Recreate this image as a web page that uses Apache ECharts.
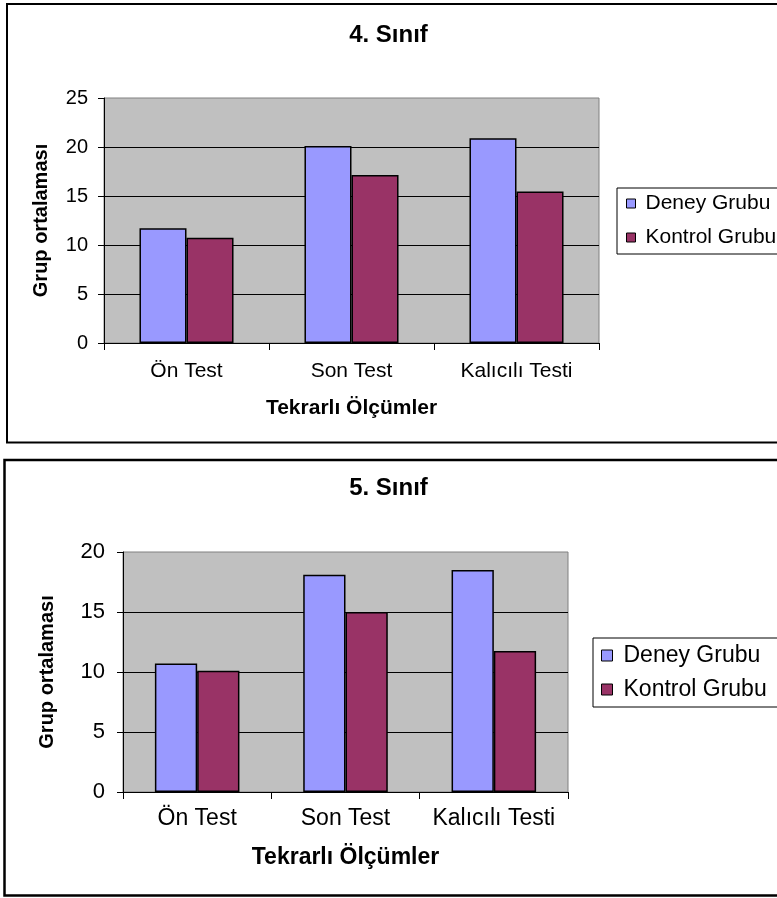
<!DOCTYPE html>
<html>
<head>
<meta charset="utf-8">
<script src="https://cdn.jsdelivr.net/npm/echarts@6/dist/echarts.min.js"></script>
<style>
html,body{margin:0;padding:0;background:#fff;}
#c{width:777px;height:898px;}
</style>
</head>
<body>
<div id="c"></div>
<script>
var categories = ['Ön Test', 'Son Test', 'Kalıcılı Testi'];
var seriesNames = ['Deney Grubu', 'Kontrol Grubu'];
var deney4 = [11.7, 20.1, 20.9];
var kontrol4 = [10.75, 17.15, 15.45];
var deney5 = [10.7, 18.1, 18.5];
var kontrol5 = [10.1, 15.0, 11.75];
var titles = ['4. Sınıf', '5. Sınıf'];
var xTitle = 'Tekrarlı Ölçümler';
var yTitle = 'Grup ortalaması';
var yMax4 = 25, yMax5 = 20, yStep = 5;

var FONT = '"Liberation Sans", Arial, sans-serif';
var colDeney = '#9999FF', colKontrol = '#993366';

var chart = echarts.init(document.getElementById('c'), null, {renderer: 'canvas'});

function xAxisOpt(gi, fs, margin, gap, nfs) {
  return {
    type: 'category', gridIndex: gi, data: categories,
    axisLine: {lineStyle: {color: '#000', width: 1}},
    axisTick: {show: true, length: 7, lineStyle: {color: '#000'}},
    axisLabel: {color: '#000', fontFamily: FONT, fontSize: fs, margin: margin, interval: 0, hideOverlap: false},
    name: xTitle, nameLocation: 'middle', nameGap: gap,
    nameTextStyle: {color: '#000', fontFamily: FONT, fontSize: nfs, fontWeight: 'bold'}
  };
}
function yAxisOpt(gi, max, fs, margin, gap) {
  return {
    type: 'value', gridIndex: gi, min: 0, max: max, interval: yStep,
    axisLine: {show: true, lineStyle: {color: '#000', width: 1}},
    axisTick: {show: true, length: 6, lineStyle: {color: '#000'}},
    axisLabel: {color: '#000', fontFamily: FONT, fontSize: fs, margin: margin},
    splitLine: {show: true, showMaxLine: false, lineStyle: {color: '#000', width: 1}},
    name: yTitle, nameLocation: 'middle', nameRotate: 90, nameGap: gap,
    nameTextStyle: {color: '#000', fontFamily: FONT, fontSize: 20, fontWeight: 'bold'}
  };
}
function barSeries(name, data, gi, color) {
  return {
    type: 'bar', name: name, data: data, xAxisIndex: gi, yAxisIndex: gi,
    barGap: '0%', barCategoryGap: '43%',
    itemStyle: {color: color, borderColor: '#000', borderWidth: 1.5},
    emphasis: {disabled: true}, animation: false
  };
}
function legendOpt(left, top, fs, lh, gap, pad, textPad, icon) {
  return {
    left: left, top: top, orient: 'vertical', data: seriesNames,
    icon: 'rect', itemWidth: icon, itemHeight: icon, itemGap: gap,
    padding: pad, backgroundColor: '#fff',
    borderColor: '#000', borderWidth: 1,
    itemStyle: {borderColor: '#000', borderWidth: 1},
    textStyle: {color: '#000', fontFamily: FONT, fontSize: fs, lineHeight: lh, padding: [0, 0, 0, textPad]},
    selectedMode: false
  };
}

var option = {
  animation: false,
  backgroundColor: '#fff',
  title: [
    {text: titles[0], left: 'center', top: 23, padding: [0, 0, 0, 17],
     textStyle: {color: '#000', fontFamily: FONT, fontSize: 24, fontWeight: 'bold'}},
    {text: titles[1], left: 'center', top: 476, padding: [0, 0, 0, 17],
     textStyle: {color: '#000', fontFamily: FONT, fontSize: 24, fontWeight: 'bold'}}
  ],
  legend: [
    legendOpt(617, 188, 21, 20, 13, [5, 40, 6, 9], 5, 9),
    legendOpt(593, 638, 23, 22, 11, [6, 40, 6, 8], 6, 11)
  ],
  grid: [
    {left: 104, top: 98, width: 495, height: 245, show: true, backgroundColor: '#C0C0C0', borderColor: '#808080', borderWidth: 1},
    {left: 123, top: 552, width: 445, height: 240, show: true, backgroundColor: '#C0C0C0', borderColor: '#808080', borderWidth: 1}
  ],
  xAxis: [xAxisOpt(0, 21, 18, 55, 21), xAxisOpt(1, 23, 15, 54, 23)],
  yAxis: [yAxisOpt(0, yMax4, 20, 16, 53), yAxisOpt(1, yMax5, 22, 18, 66)],
  series: [
    barSeries(seriesNames[0], deney4, 0, colDeney),
    barSeries(seriesNames[1], kontrol4, 0, colKontrol),
    barSeries(seriesNames[0], deney5, 1, colDeney),
    barSeries(seriesNames[1], kontrol5, 1, colKontrol)
  ],
  graphic: [
    {type: 'rect', z: 100, silent: true, shape: {x: 7, y: 4, width: 800, height: 438.5},
     style: {fill: null, stroke: '#000', lineWidth: 2}},
    {type: 'rect', z: 100, silent: true, shape: {x: 4.5, y: 460, width: 800, height: 435.5},
     style: {fill: null, stroke: '#000', lineWidth: 2.5}}
  ]
};
chart.setOption(option);
</script>
</body>
</html>
